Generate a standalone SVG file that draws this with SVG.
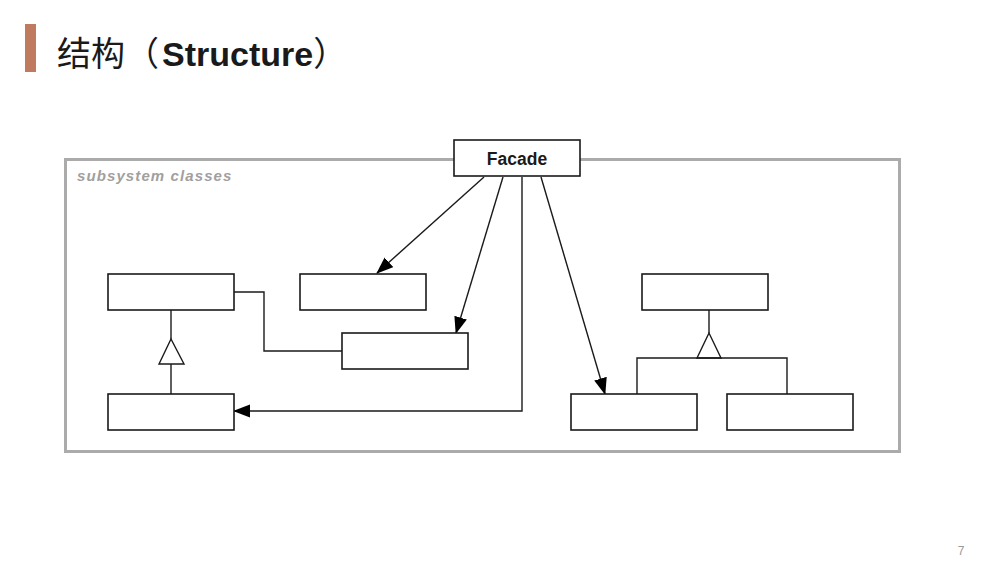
<svg xmlns="http://www.w3.org/2000/svg" width="1000" height="570" viewBox="0 0 1000 570">
  <style>
    .cls { fill: #ffffff; stroke: #1a1a1a; stroke-width: 1.6; }
    .conn { fill: none; stroke: #1a1a1a; stroke-width: 1.4; }
    .tri { fill: #ffffff; stroke: #1a1a1a; stroke-width: 1.4; }
  </style>
  <defs>
    <marker id="arrow" markerUnits="userSpaceOnUse" markerWidth="18" markerHeight="14" refX="16" refY="6.5" orient="auto">
      <path d="M0,0 L17,6.5 L0,13 z" fill="#000000"/>
    </marker>
  </defs>
  <rect x="0" y="0" width="1000" height="570" fill="#ffffff"/>

  <g id="title">
    <rect x="25" y="24" width="11" height="48" fill="#c07a5f"/>
    <text x="57" y="66" font-size="34" fill="#1a1a1a" font-family="'Noto Sans CJK SC', 'Liberation Sans', sans-serif">结构（<tspan dx="3" font-family="'Liberation Sans', sans-serif" font-weight="bold">Structure</tspan>）</text>
  </g>

  <g id="subsystem">
    <rect x="65.5" y="159.5" width="834" height="292" fill="none" stroke="#ababab" stroke-width="3"/>
    <text x="77" y="181" font-size="15" font-style="italic" font-weight="bold" fill="#a0a0a0" letter-spacing="1.1" font-family="'Liberation Sans', Arial, sans-serif">subsystem classes</text>
  </g>

  <g id="connectors">
    <line class="conn" x1="484" y1="177" x2="377" y2="273" marker-end="url(#arrow)"/>
    <line class="conn" x1="503" y1="177" x2="456" y2="333" marker-end="url(#arrow)"/>
    <polyline class="conn" points="522,177 522,411 234,411" marker-end="url(#arrow)"/>
    <line class="conn" x1="541" y1="177" x2="605" y2="394" marker-end="url(#arrow)"/>
    <polyline class="conn" points="234,292 264,292 264,351 342,351"/>
    <line class="conn" x1="171" y1="310" x2="171" y2="339"/>
    <line class="conn" x1="171" y1="364" x2="171" y2="394"/>
    <polygon class="tri" points="171,339 159,364 184,364"/>
    <line class="conn" x1="709" y1="310" x2="709" y2="333"/>
    <polygon class="tri" points="709,333 697,358 721,358"/>
    <polyline class="conn" points="637,394 637,358 787,358 787,394"/>
  </g>

  <g id="facade">
    <rect class="cls" x="454" y="140" width="126" height="36"/>
    <text x="517" y="165" font-size="17.5" font-weight="bold" text-anchor="middle" fill="#1a1a1a" font-family="'Liberation Sans', Arial, sans-serif">Facade</text>
  </g>

  <g id="class-a"><rect class="cls" x="108" y="274" width="126" height="36"/></g>
  <g id="class-b"><rect class="cls" x="300" y="274" width="126" height="36"/></g>
  <g id="class-c"><rect class="cls" x="342" y="333" width="126" height="36"/></g>
  <g id="class-d"><rect class="cls" x="108" y="394" width="126" height="36"/></g>
  <g id="class-g"><rect class="cls" x="642" y="274" width="126" height="36"/></g>
  <g id="class-e"><rect class="cls" x="571" y="394" width="126" height="36"/></g>
  <g id="class-f"><rect class="cls" x="727" y="394" width="126" height="36"/></g>

  <g id="page-number">
    <text x="961" y="555" font-size="12" text-anchor="middle" fill="#999999" font-family="'Liberation Sans', Arial, sans-serif">7</text>
  </g>
</svg>
